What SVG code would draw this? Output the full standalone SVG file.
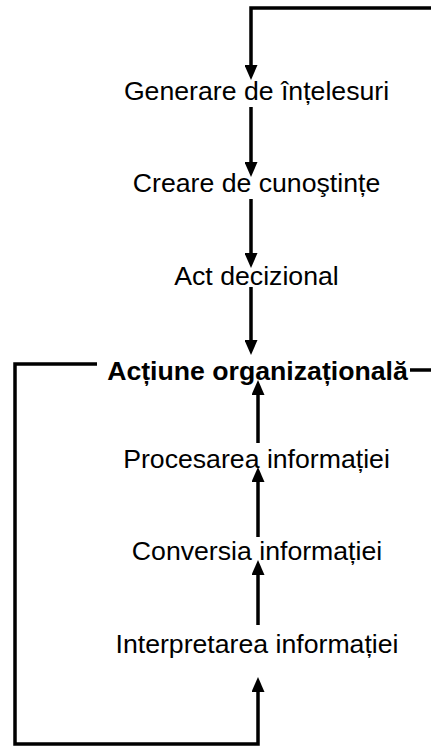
<svg xmlns="http://www.w3.org/2000/svg" width="431" height="746" viewBox="0 0 431 746">
  <style>
    .lbl { font-family: "Liberation Sans", Arial, sans-serif; font-size: 26.67px; fill: #000; text-anchor: middle; }
    .bold { font-weight: bold; }
    .wire { fill: none; stroke: #000; stroke-width: 3.5; stroke-linejoin: miter; }
    .arrow { marker-end: url(#head); }
  </style>
  <defs>
    <marker id="head" viewBox="0 0 15 13" refX="0" refY="6.5" markerWidth="15" markerHeight="13" markerUnits="userSpaceOnUse" orient="auto">
      <path d="M0,0 L15,6.5 L0,13 Z" fill="#000"/>
    </marker>
  </defs>
  <rect width="431" height="746" fill="#fff"/>

  <!-- connectors -->
  <g id="connectors">
    <!-- downward chain -->
    <path class="wire arrow" d="M431,8 H251 V65"/>
    <path class="wire arrow" d="M251,107 V162"/>
    <path class="wire arrow" d="M251,199 V253"/>
    <path class="wire arrow" d="M251,287 V340"/>
    <!-- upward chain and feedback loop -->
    <path class="wire arrow" d="M97,364 H15 V744 H258 V692"/>
    <path class="wire arrow" d="M258,625 V575"/>
    <path class="wire arrow" d="M258,537 V482"/>
    <path class="wire arrow" d="M258,443 V395"/>
    <path class="wire" d="M410,370 H431"/>
  </g>

  <!-- nodes -->
  <g id="generare"><text class="lbl" x="256.5" y="100">Generare de înțelesuri</text></g>
  <g id="creare"><text class="lbl" x="256.5" y="192">Creare de cunoştințe</text></g>
  <g id="act"><text class="lbl" x="256.5" y="285">Act decizional</text></g>
  <g id="actiune"><text class="lbl bold" x="257.5" y="380">Acțiune organizațională</text></g>
  <g id="procesarea"><text class="lbl" x="256.5" y="468">Procesarea informației</text></g>
  <g id="conversia"><text class="lbl" x="257" y="560">Conversia informației</text></g>
  <g id="interpretarea"><text class="lbl" x="257" y="653">Interpretarea informației</text></g>
</svg>
